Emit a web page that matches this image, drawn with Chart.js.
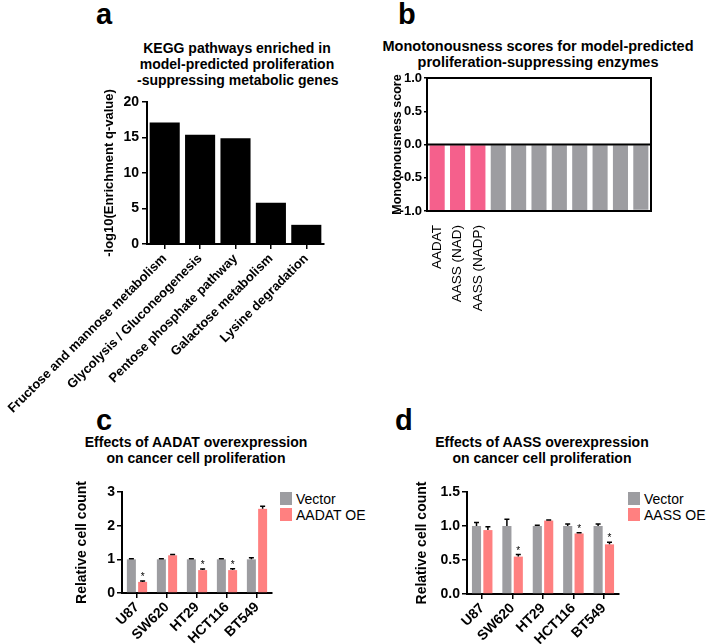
<!DOCTYPE html>
<html>
<head>
<meta charset="utf-8">
<script src="https://cdn.jsdelivr.net/npm/chart.js@4.4.1/dist/chart.umd.min.js"></script>
<style>
  body { margin: 0; background: #fff; }
  #page { position: relative; width: 709px; height: 644px; overflow: hidden; font-family: "Liberation Sans", Arial, Helvetica, sans-serif; color: #000; }
  #page canvas { position: absolute; }
  .letter { position: absolute; font-size: 29px; font-weight: bold; line-height: 1; }
  .title { position: absolute; font-size: 14px; font-weight: bold; line-height: 16px; text-align: center; white-space: nowrap; }
  .legend { position: absolute; font-size: 14px; line-height: 16px; }
  .legend div { position: relative; padding-left: 16px; white-space: nowrap; }
  .legend span { position: absolute; left: 0; top: 1px; width: 12px; height: 13px; }
</style>
</head>
<body>
<div id="page">
  <div class="letter" style="left:96px; top:0px;">a</div>
  <div class="letter" style="left:398px; top:0px;">b</div>
  <div class="letter" style="left:96px; top:406px;">c</div>
  <div class="letter" style="left:395px; top:406px;">d</div>

  <div class="title" style="left:137px; width:200px; top:40px;">KEGG pathways enriched in<br>model-predicted proliferation<br>-suppressing metabolic genes</div>
  <div class="title" style="left:378px; width:320px; top:38px; font-size:14.5px;">Monotonousness scores for model-predicted<br>proliferation-suppressing enzymes</div>
  <div class="title" style="left:76px; width:240px; top:434px;">Effects of AADAT overexpression<br>on cancer cell proliferation</div>
  <div class="title" style="left:422px; width:240px; top:434px;">Effects of AASS overexpression<br>on cancer cell proliferation</div>

  <div class="legend" style="left:280px; top:491px;">
    <div><span style="background:#9d9da1"></span>Vector</div>
    <div><span style="background:#ff8080"></span>AADAT OE</div>
  </div>
  <div class="legend" style="left:628px; top:491px;">
    <div><span style="background:#9d9da1"></span>Vector</div>
    <div><span style="background:#ff8080"></span>AASS OE</div>
  </div>

  <canvas id="chartA" width="340" height="330" style="left:0px; top:85px;"></canvas>
  <canvas id="chartB" width="320" height="250" style="left:340px; top:70px;"></canvas>
  <canvas id="chartC" width="300" height="174" style="left:0px; top:470px;"></canvas>
  <canvas id="chartD" width="290" height="174" style="left:340px; top:470px;"></canvas>
</div>

<script>
// ---------- data ----------
const keggPathways = ['Fructose and mannose metabolism', 'Glycolysis / Gluconeogenesis', 'Pentose phosphate pathway', 'Galactose metabolism', 'Lysine degradation'];
const keggScores = [17.1, 15.4, 14.9, 5.8, 2.7];

const enzymeLabels = ['AADAT', 'AASS (NAD)', 'AASS (NADP)', '', '', '', '', '', '', '', ''];
const monoScores = [-1, -1, -1, -1, -1, -1, -1, -1, -1, -1, -0.98];
const highlightedEnzymes = 3;

const cellLines = ['U87', 'SW620', 'HT29', 'HCT116', 'BT549'];

const aadatVector = [1, 1, 1, 1, 1];
const aadatVectorErr = [0.02, 0.02, 0.02, 0.02, 0.05];
const aadatOE = [0.33, 1.12, 0.68, 0.68, 2.5];
const aadatOEErr = [0.03, 0.02, 0.03, 0.04, 0.08];
const aadatSig = [true, false, true, true, false];

const aassVector = [1, 1, 1, 1, 1];
const aassVectorErr = [0.05, 0.1, 0.01, 0.03, 0.03];
const aassOE = [0.94, 0.55, 1.08, 0.89, 0.73];
const aassOEErr = [0.05, 0.03, 0.01, 0.01, 0.03];
const aassSig = [false, true, false, true, true];

// ---------- styles ----------
const FONT = '"Liberation Sans", Arial, Helvetica, sans-serif';
const GREY = '#9d9da1';
const SALMON = '#ff8080';
const PINK = '#f5608c';

Chart.defaults.font.family = FONT;
Chart.defaults.color = '#000';
Chart.defaults.animation = false;

// fixes an axis' size so plot areas line up with the figure
function fixWidth(w) {
    return (scale) => { scale.width = w; scale.paddingTop = 0; scale.paddingBottom = 0; };
}
function fixHeight(h) {
    return (scale) => { scale.height = h; scale.paddingLeft = 0; scale.paddingRight = 0; };
}

// upward error bars + significance stars
const errorBarPlugin = {
    id: 'errorBars',
    afterDatasetsDraw(chart) {
        const ctx = chart.ctx;
        const yScale = chart.scales.y;
        chart.data.datasets.forEach((ds, i) => {
            if (!ds.errors) return;
            const meta = chart.getDatasetMeta(i);
            meta.data.forEach((bar, j) => {
                const top = yScale.getPixelForValue(ds.data[j] + ds.errors[j]);
                ctx.save();
                ctx.strokeStyle = '#000';
                ctx.lineWidth = 1.5;
                ctx.beginPath();
                ctx.moveTo(bar.x, bar.y);
                ctx.lineTo(bar.x, top);
                ctx.moveTo(bar.x - 2.5, top);
                ctx.lineTo(bar.x + 2.5, top);
                ctx.stroke();
                if (ds.stars && ds.stars[j]) {
                    ctx.fillStyle = '#000';
                    ctx.font = '10px ' + FONT;
                    ctx.textAlign = 'center';
                    ctx.textBaseline = 'alphabetic';
                    ctx.fillText('*', bar.x, top - 1);
                }
                ctx.restore();
            });
        });
    }
};

// frame + zero line for panel b
const framePlugin = {
    id: 'frame',
    afterDatasetsDraw(chart) {
        const { ctx, chartArea: a } = chart;
        const y0 = chart.scales.y.getPixelForValue(0);
        ctx.save();
        ctx.strokeStyle = '#000';
        ctx.lineWidth = 2;
        ctx.strokeRect(a.left, a.top, a.right - a.left, a.bottom - a.top);
        ctx.beginPath();
        ctx.moveTo(a.left, y0);
        ctx.lineTo(a.right, y0);
        ctx.stroke();
        ctx.restore();
    }
};

function axisGrid() {
    return { display: true, drawOnChartArea: false, drawTicks: true, tickLength: 5, color: '#000', lineWidth: 1.5, offset: false };
}

// ---------- panel a ----------
new Chart(document.getElementById('chartA'), {
    type: 'bar',
    data: {
        labels: keggPathways,
        datasets: [{ data: keggScores, backgroundColor: '#000', barPercentage: 0.85, categoryPercentage: 1 }]
    },
    options: {
        responsive: false,
        layout: { padding: { top: 17, right: 16, left: 0, bottom: 0 } },
        plugins: { legend: { display: false }, tooltip: { enabled: false } },
        scales: {
            x: {
                grid: axisGrid(),
                border: { display: true, color: '#000', width: 2 },
                ticks: { autoSkip: false, minRotation: 45, maxRotation: 45, padding: 2, font: { size: 13, weight: 'bold' } },
                afterFit: fixHeight(171)
            },
            y: {
                min: 0, max: 20,
                grid: axisGrid(),
                border: { display: true, color: '#000', width: 2 },
                ticks: { stepSize: 5, padding: 3, font: { size: 14, weight: 'bold' } },
                title: { display: true, text: '-log10(Enrichment q-value)', padding: { top: 102 }, font: { size: 13, weight: 'bold' } },
                afterFit: fixWidth(147)
            }
        }
    }
});

// ---------- panel b ----------
new Chart(document.getElementById('chartB'), {
    type: 'bar',
    data: {
        labels: enzymeLabels,
        datasets: [{
            data: monoScores,
            backgroundColor: monoScores.map((v, i) => i < highlightedEnzymes ? PINK : GREY),
            barPercentage: 0.74, categoryPercentage: 1
        }]
    },
    options: {
        responsive: false,
        layout: { padding: { top: 8, right: 9, left: 0, bottom: 0 } },
        plugins: { legend: { display: false }, tooltip: { enabled: false } },
        scales: {
            x: {
                grid: { display: false },
                border: { display: false },
                ticks: { autoSkip: false, minRotation: 90, maxRotation: 90, padding: 6, font: { size: 13.5 } },
                afterFit: fixHeight(109)
            },
            y: {
                min: -1, max: 1,
                grid: { display: true, drawOnChartArea: false, drawTicks: true, tickLength: 3, color: '#000', lineWidth: 1.5 },
                border: { display: false },
                ticks: { stepSize: 0.5, padding: 2, font: { size: 13, weight: 'bold' }, callback: v => v.toFixed(1) },
                title: { display: true, text: 'Monotonousness score', padding: { top: 50 }, font: { size: 12.5, weight: 'bold' } },
                afterFit: fixWidth(87)
            }
        }
    },
    plugins: [framePlugin]
});

// ---------- panels c and d ----------
function cellChart(id, vec, vecErr, oe, oeErr, sig, yMax, yStep, decimals, yWidth, padRight, xHeight) {
    return new Chart(document.getElementById(id), {
        type: 'bar',
        data: {
            labels: cellLines,
            datasets: [
                { label: 'Vector', data: vec, errors: vecErr, backgroundColor: GREY, barPercentage: 0.8, categoryPercentage: 0.75 },
                { label: 'OE', data: oe, errors: oeErr, stars: sig, backgroundColor: SALMON, barPercentage: 0.8, categoryPercentage: 0.75 }
            ]
        },
        options: {
            responsive: false,
            layout: { padding: { top: 22, right: padRight, left: 0, bottom: 0 } },
            plugins: { legend: { display: false }, tooltip: { enabled: false } },
            scales: {
                x: {
                    grid: axisGrid(),
                    border: { display: true, color: '#000', width: 2 },
                    ticks: { autoSkip: false, minRotation: 45, maxRotation: 45, padding: 1, font: { size: 14, weight: 'bold' } },
                    afterFit: fixHeight(xHeight)
                },
                y: {
                    min: 0, max: yMax,
                    grid: axisGrid(),
                    border: { display: true, color: '#000', width: 2 },
                    ticks: { stepSize: yStep, padding: 2, font: { size: 14, weight: 'bold' }, callback: v => v.toFixed(decimals) },
                    title: { display: true, text: 'Relative cell count', padding: { top: 74 }, font: { size: 14, weight: 'bold' } },
                    afterFit: fixWidth(yWidth)
                }
            }
        },
        plugins: [errorBarPlugin]
    });
}

cellChart('chartC', aadatVector, aadatVectorErr, aadatOE, aadatOEErr, aadatSig, 3, 1, 0, 122, 28, 51);
cellChart('chartD', aassVector, aassVectorErr, aassOE, aassOEErr, aassSig, 1.5, 0.5, 1, 127, 11, 50);
</script>
</body>
</html>
